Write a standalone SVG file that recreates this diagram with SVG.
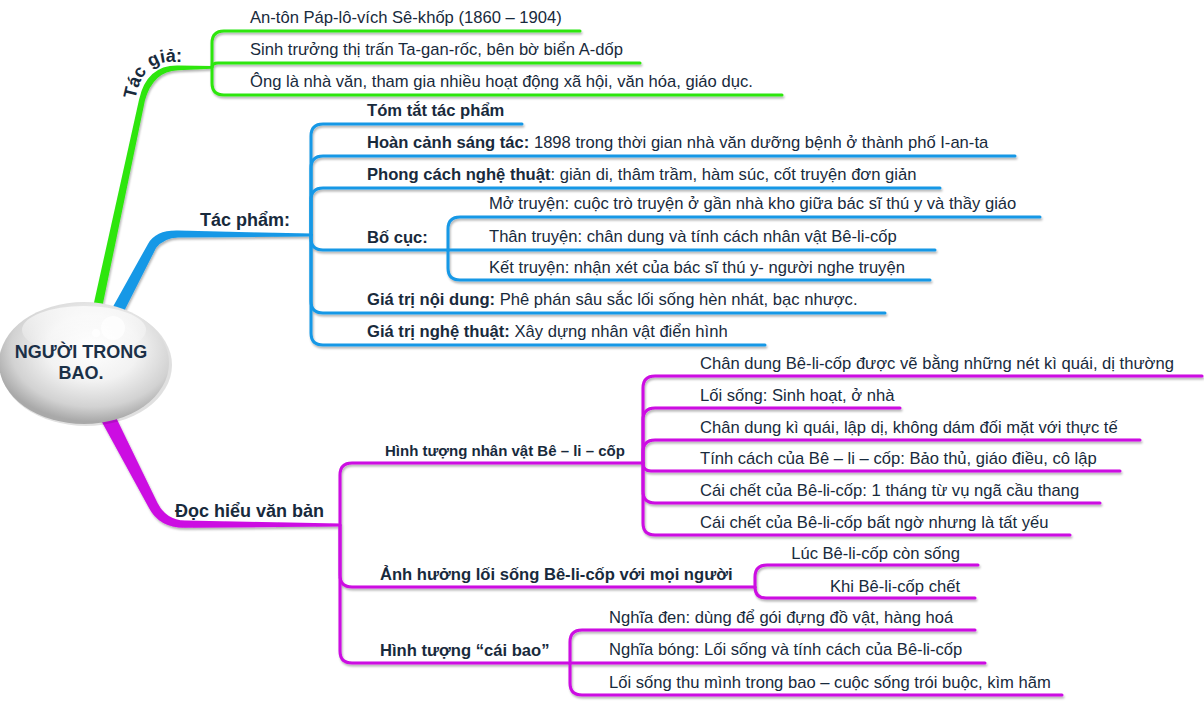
<svg xmlns="http://www.w3.org/2000/svg" width="1204" height="708" viewBox="0 0 1204 708">
<style>
text{font-family:"Liberation Sans",Arial,sans-serif;fill:#182a3c;font-size:16.6px}
.b{font-weight:bold}
.sec{font-weight:bold;font-size:18px}
.g{fill:none;stroke:#2de60f;stroke-width:3;stroke-linecap:round}
.u{fill:none;stroke:#1598e6;stroke-width:3;stroke-linecap:round}
.m{fill:none;stroke:#cc0ae2;stroke-width:3;stroke-linecap:round}
.center{font-size:18px;font-weight:bold;fill:#1b3047}
</style>
<defs>
<filter id="sh" x="-5%" y="-5%" width="110%" height="115%">
<feDropShadow dx="1" dy="2" stdDeviation="0.8" flood-color="#000" flood-opacity="0.3"/>
</filter>
<radialGradient id="ball" cx="55%" cy="38%" r="60%">
<stop offset="0" stop-color="#ffffff"/>
<stop offset="0.45" stop-color="#f2f2f2"/>
<stop offset="0.8" stop-color="#d2d2d2"/>
<stop offset="1" stop-color="#a9a9a9"/>
</radialGradient>
<linearGradient id="gloss" x1="0" y1="0" x2="0" y2="1">
<stop offset="0" stop-color="#fff" stop-opacity="0.9"/>
<stop offset="1" stop-color="#fff" stop-opacity="0"/>
</linearGradient>
<path id="tgpath" d="M102,262 L136,96 Q143,62 170,62 L240,62"/>
</defs>
<rect width="1204" height="708" fill="#fff"/>

<g id="connectors" filter="url(#sh)">
<path fill="#2de60f" d="M92.6,309 L139.1,99.4 Q147,65 178,65.6 L212,66 L212,68.8 L178,70.2 Q153,71 144.9,100.6 L101.4,311 Z"/>
<path fill="#1598e6" d="M112.7,307.2 L148,243.9 Q156,230 178,230.6 L312,233.6 L312,236.6 L178,237.6 Q164,238 156,248.1 L123.3,312.8 Z"/>
<path fill="#cc0ae2" d="M110.7,406.6 L157.4,502.7 Q166,520 185,520.5 L340,523.6 L340,526.6 L185,527.8 Q159,528 148.6,507.3 L97.3,413.4 Z"/>
<path class="g" d="M212,67 L212,43 Q212,31 224,31 L580,31"/>
<path class="g" d="M212,67 Q212,63 218,63 L640,63"/>
<path class="g" d="M212,67 L212,83 Q212,95 224,95 L782,95"/>
<path class="u" d="M311,235 L311,136 Q311,124 323,124 L522,124"/>
<path class="u" d="M311,235 L311,168 Q311,156 323,156 L1015,156"/>
<path class="u" d="M311,235 L311,200 Q311,188 323,188 L940,188"/>
<path class="u" d="M311,235 L311,238 Q311,250 323,250 L448,250"/>
<path class="u" d="M311,235 L311,301 Q311,313 323,313 L885,313"/>
<path class="u" d="M311,235 L311,333 Q311,345 323,345 L765,345"/>
<path class="u" d="M448,250 L448,229 Q448,217 460,217 L1040,217"/>
<path class="u" d="M448,250 L935,250"/>
<path class="u" d="M448,250 L448,268 Q448,280 460,280 L930,280"/>
<path class="m" d="M340,525 L340,475 Q340,463 352,463 L643,463"/>
<path class="m" d="M340,525 L340,575 Q340,587 352,587 L755,587"/>
<path class="m" d="M340,525 L340,651 Q340,663 352,663 L570,663"/>
<path class="m" d="M643,463 L643,388 Q643,376 655,376 L1202,376"/>
<path class="m" d="M643,463 L643,420 Q643,408 655,408 L900,408"/>
<path class="m" d="M643,463 L643,452 Q643,440 655,440 L1140,440"/>
<path class="m" d="M643,463 Q643,471 651,471 L1120,471"/>
<path class="m" d="M643,463 L643,491 Q643,503 655,503 L1100,503"/>
<path class="m" d="M643,463 L643,523 Q643,535 655,535 L1070,535"/>
<path class="m" d="M755,587 L755,577 Q755,565 767,565 L978,565"/>
<path class="m" d="M755,587 Q755,598 766,598 L975,598"/>
<path class="m" d="M570,663 L570,642 Q570,630 582,630 L975,630"/>
<path class="m" d="M570,663 L985,663"/>
<path class="m" d="M570,663 L570,683 Q570,695 582,695 L1062,695"/>
</g>

<g id="center">
<ellipse cx="86" cy="365" rx="86" ry="61" fill="#000" opacity="0.12"/>
<ellipse cx="84" cy="363" rx="85" ry="61" fill="url(#ball)"/>
<ellipse cx="84" cy="330" rx="62" ry="24" fill="url(#gloss)" opacity="0.8"/>
<circle cx="113" cy="328" r="12" fill="#fff" opacity="0.7"/>
<circle cx="96" cy="333" r="4" fill="#fff" opacity="0.8"/>
<text class="center" x="81" y="358" text-anchor="middle">NGƯỜI TRONG</text>
<text class="center" x="81" y="379" text-anchor="middle">BAO.</text>
</g>

<g id="tac-gia">
<text class="sec"><textPath href="#tgpath" startOffset="166">Tác giả:</textPath></text>
</g>
<g id="tg-1"><text x="250" y="23">An-tôn Páp-lô-vích Sê-khốp (1860 – 1904)</text></g>
<g id="tg-2"><text x="250" y="55">Sinh trưởng thị trấn Ta-gan-rốc, bên bờ biển A-dốp</text></g>
<g id="tg-3"><text x="250" y="87">Ông là nhà văn, tham gia nhiều hoạt động xã hội, văn hóa, giáo dục.</text></g>

<g id="tac-pham"><text class="sec" x="200" y="226">Tác phẩm:</text></g>
<g id="tp-1"><text class="b" x="367" y="116">Tóm tắt tác phẩm</text></g>
<g id="tp-2"><text x="367" y="148"><tspan class="b">Hoàn cảnh sáng tác:</tspan> 1898 trong thời gian nhà văn dưỡng bệnh ở thành phố I-an-ta</text></g>
<g id="tp-3"><text x="367" y="180"><tspan class="b">Phong cách nghệ thuật</tspan>: giản di, thâm trầm, hàm súc, cốt truyện đơn giản</text></g>
<g id="tp-4"><text class="b" x="367" y="243">Bố cục:</text></g>
<g id="bc-1"><text x="489" y="209">Mở truyện: cuộc trò truyện ở gần nhà kho giữa bác sĩ thú y và thầy giáo</text></g>
<g id="bc-2"><text x="489" y="242">Thân truyện: chân dung và tính cách nhân vật Bê-li-cốp</text></g>
<g id="bc-3"><text x="489" y="273">Kết truyện: nhận xét của bác sĩ thú y- người nghe truyện</text></g>
<g id="tp-5"><text x="367" y="305"><tspan class="b">Giá trị nội dung:</tspan> Phê phán sâu sắc lối sống hèn nhát, bạc nhược.</text></g>
<g id="tp-6"><text x="367" y="337"><tspan class="b">Giá trị nghệ thuật:</tspan> Xây dựng nhân vật điển hình</text></g>

<g id="doc-hieu"><text class="sec" x="175" y="517">Đọc hiểu văn bản</text></g>
<g id="dh-1"><text class="b" x="385" y="456" style="font-size:15px">Hình tượng nhân vật Bê – li – cốp</text></g>
<g id="ht-1"><text x="700" y="369">Chân dung Bê-li-cốp được vẽ bằng những nét kì quái, dị thường</text></g>
<g id="ht-2"><text x="700" y="401">Lối sống: Sinh hoạt, ở nhà</text></g>
<g id="ht-3"><text x="700" y="433">Chân dung kì quái, lập dị, không dám đối mặt với thực tế</text></g>
<g id="ht-4"><text x="700" y="464">Tính cách của Bê – li – cốp: Bảo thủ, giáo điều, cô lập</text></g>
<g id="ht-5"><text x="700" y="496">Cái chết của Bê-li-cốp: 1 tháng từ vụ ngã cầu thang</text></g>
<g id="ht-6"><text x="700" y="528">Cái chết của Bê-li-cốp bất ngờ nhưng là tất yếu</text></g>
<g id="dh-2"><text class="b" x="380" y="580">Ảnh hưởng lối sống Bê-li-cốp với mọi người</text></g>
<g id="ah-1"><text x="960" y="559" text-anchor="end">Lúc Bê-li-cốp còn sống</text></g>
<g id="ah-2"><text x="960" y="592" text-anchor="end">Khi Bê-li-cốp chết</text></g>
<g id="dh-3"><text class="b" x="380" y="656">Hình tượng “cái bao”</text></g>
<g id="cb-1"><text x="609" y="623">Nghĩa đen: dùng để gói đựng đồ vật, hàng hoá</text></g>
<g id="cb-2"><text x="609" y="655">Nghĩa bóng: Lối sống và tính cách của Bê-li-cốp</text></g>
<g id="cb-3"><text x="609" y="688">Lối sống thu mình trong bao – cuộc sống trói buộc, kìm hãm</text></g>
</svg>
